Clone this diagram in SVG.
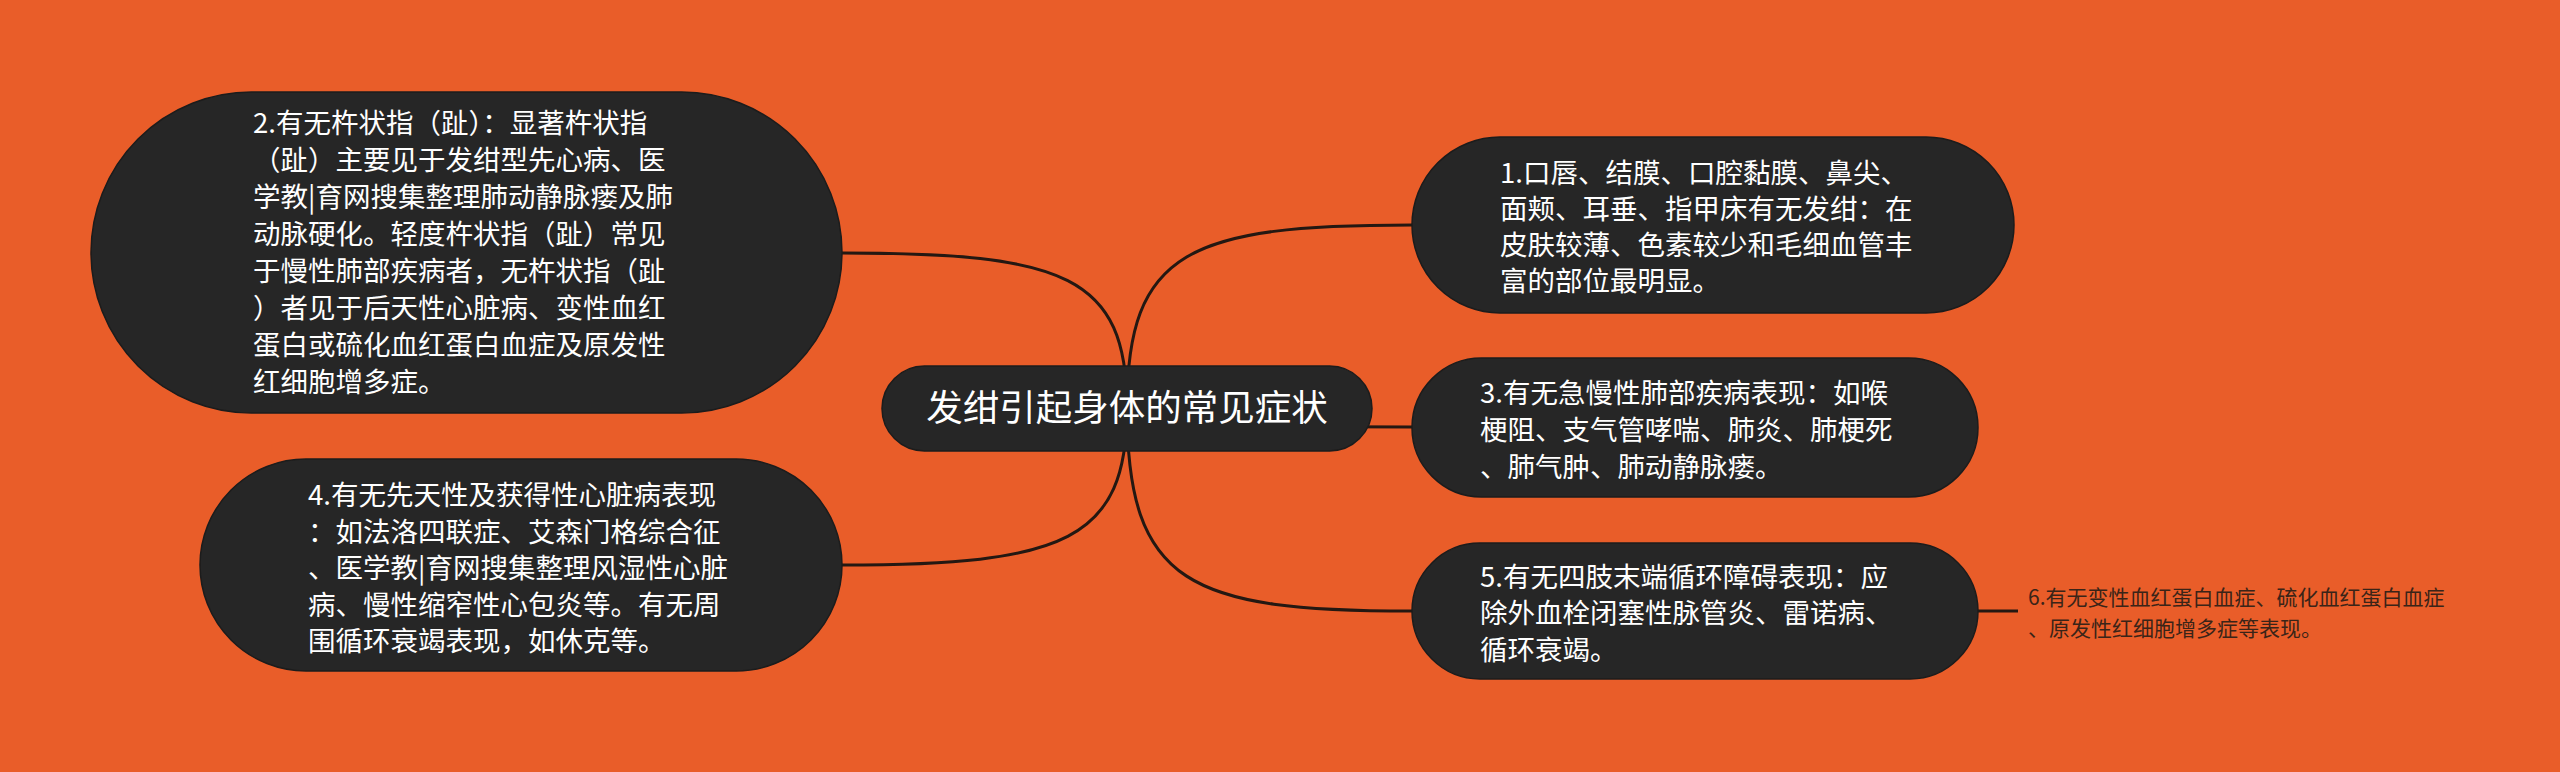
<svg xmlns="http://www.w3.org/2000/svg" width="2560" height="772" viewBox="0 0 2560 772">
<style>
.bg{fill:#E95D29}
.node{fill:#262626;stroke:#1c1c1c;stroke-width:1.5}
.t{font-family:"Noto Sans CJK SC","Noto Sans",sans-serif;fill:#ffffff;font-size:27.5px}
.tc{font-family:"Noto Sans CJK SC","Noto Sans",sans-serif;fill:#ffffff;font-size:36.5px;text-anchor:middle}
.t6{font-family:"Noto Sans CJK SC","Noto Sans",sans-serif;fill:#3a2418;font-size:21px}
.link{fill:none;stroke:#241812;stroke-width:3}
</style>
<rect class="bg" x="0" y="0" width="2560" height="772"/>
<g id="connectors">
<path class="link" d="M1127,408 C1127,250 1190,225 1412,225"/>
<path class="link" d="M1127,408 C1127,424 1190,427 1412,427"/>
<path class="link" d="M1127,408 C1127,585 1190,611 1412,611"/>
<path class="link" d="M1127,408 C1127,275 1064,253 842,253"/>
<path class="link" d="M1127,408 C1127,541 1064,565 842,565"/>
<path class="link" d="M1978,611 L2018,611"/>
</g>
<g id="center">
<rect class="node" x="882" y="366" width="490" height="85" rx="42.5"/>
<text class="tc" x="1127" y="421">发绀引起身体的常见症状</text>
</g>
<g id="node2">
<rect class="node" x="91" y="92" width="751" height="321" rx="160.5"/>
<text class="t" x="253" y="133">2.有无杵状指（趾）：显著杵状指</text>
<text class="t" x="253" y="170">（趾）主要见于发绀型先心病、医</text>
<text class="t" x="253" y="207">学教|育网搜集整理肺动静脉瘘及肺</text>
<text class="t" x="253" y="244">动脉硬化。轻度杵状指（趾）常见</text>
<text class="t" x="253" y="281">于慢性肺部疾病者，无杵状指（趾</text>
<text class="t" x="253" y="318">）者见于后天性心脏病、变性血红</text>
<text class="t" x="253" y="355">蛋白或硫化血红蛋白血症及原发性</text>
<text class="t" x="253" y="392">红细胞增多症。</text>
</g>
<g id="node4">
<rect class="node" x="200" y="459" width="642" height="212" rx="106"/>
<text class="t" x="308" y="505">4.有无先天性及获得性心脏病表现</text>
<text class="t" x="308" y="541.5">：如法洛四联症、艾森门格综合征</text>
<text class="t" x="308" y="578">、医学教|育网搜集整理风湿性心脏</text>
<text class="t" x="308" y="614.5">病、慢性缩窄性心包炎等。有无周</text>
<text class="t" x="308" y="651">围循环衰竭表现，如休克等。</text>
</g>
<g id="node1">
<rect class="node" x="1412" y="137" width="602" height="176" rx="88"/>
<text class="t" x="1500" y="183">1.口唇、结膜、口腔黏膜、鼻尖、</text>
<text class="t" x="1500" y="219">面颊、耳垂、指甲床有无发绀：在</text>
<text class="t" x="1500" y="255">皮肤较薄、色素较少和毛细血管丰</text>
<text class="t" x="1500" y="291">富的部位最明显。</text>
</g>
<g id="node3">
<rect class="node" x="1412" y="358" width="566" height="139" rx="69.5"/>
<text class="t" x="1480" y="403">3.有无急慢性肺部疾病表现：如喉</text>
<text class="t" x="1480" y="440">梗阻、支气管哮喘、肺炎、肺梗死</text>
<text class="t" x="1480" y="477">、肺气肿、肺动静脉瘘。</text>
</g>
<g id="node5">
<rect class="node" x="1412" y="543" width="566" height="136" rx="68"/>
<text class="t" x="1480" y="587">5.有无四肢末端循环障碍表现：应</text>
<text class="t" x="1480" y="623">除外血栓闭塞性脉管炎、雷诺病、</text>
<text class="t" x="1480" y="660">循环衰竭。</text>
</g>
<g id="node6">
<text class="t6" x="2028" y="604.5">6.有无变性血红蛋白血症、硫化血红蛋白血症</text>
<text class="t6" x="2028" y="635.5">、原发性红细胞增多症等表现。</text>
</g>
</svg>
